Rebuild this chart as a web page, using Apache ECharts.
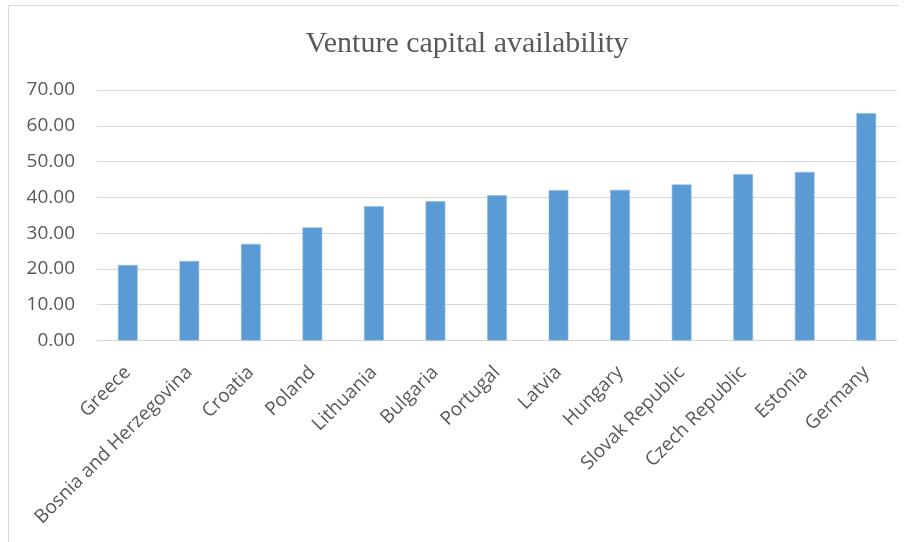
<!DOCTYPE html>
<html>
<head>
<meta charset="utf-8">
<style>
  html, body { margin: 0; padding: 0; background: #ffffff; }
  #chart { width: 909px; height: 542px; }
</style>
<script src="https://cdn.jsdelivr.net/npm/echarts@6/dist/echarts.min.js"></script>
</head>
<body>
<div id="chart"></div>
<script>
// Countries, in ascending order of venture capital availability
const countries = [
  'Greece', 'Bosnia and Herzegovina', 'Croatia', 'Poland', 'Lithuania',
  'Bulgaria', 'Portugal', 'Latvia', 'Hungary', 'Slovak Republic',
  'Czech Republic', 'Estonia', 'Germany'
];
const availability = [
  21.1, 22.2, 27.0, 31.6, 37.5, 38.9, 40.6, 42.0, 42.1, 43.6, 46.5, 47.1, 63.5
];
const yTicks = [0, 10, 20, 30, 40, 50, 60, 70];

const chart = echarts.init(document.getElementById('chart'), null, { renderer: 'canvas' });

chart.setOption({
  backgroundColor: '#ffffff',
  animation: false,
  title: {
    text: 'Venture capital availability',
    left: 462,
    top: 24,
    textAlign: 'center',
    textStyle: {
      fontFamily: '"Liberation Serif", "Times New Roman", serif',
      fontSize: 30,
      fontWeight: 'normal',
      color: '#595959'
    }
  },
  graphic: [{
    type: 'polyline',
    shape: { points: [[8.5, 560], [8.5, 5.5], [898, 5.5]] },
    style: { stroke: '#d9d9d9', lineWidth: 1, fill: null },
    silent: true
  }],
  grid: { left: 97, right: 12, top: 90, bottom: 201.5, containLabel: false },
  xAxis: {
    type: 'category',
    data: countries,
    axisLine: { show: true, lineStyle: { color: '#d9d9d9', width: 1 } },
    axisTick: { show: false },
    axisLabel: {
      rotate: 45,
      interval: 0,
      margin: 29,
      fontFamily: '"Open Sans", sans-serif',
      fontSize: 19,
      color: '#595959'
    }
  },
  yAxis: {
    type: 'value',
    min: yTicks[0],
    max: yTicks[yTicks.length - 1],
    interval: 10,
    axisLine: { show: false },
    axisTick: { show: false },
    splitLine: { show: true, lineStyle: { color: '#d9d9d9', width: 1 } },
    axisLabel: {
      margin: 22,
      fontFamily: '"Open Sans", sans-serif',
      fontSize: 19,
      color: '#595959',
      formatter: v => v.toFixed(2)
    }
  },
  series: [{
    type: 'bar',
    data: availability,
    barWidth: '32%',
    itemStyle: { color: '#5b9bd5', borderColor: '#8db8e2', borderWidth: 0.6 }
  }]
});
</script>
</body>
</html>
